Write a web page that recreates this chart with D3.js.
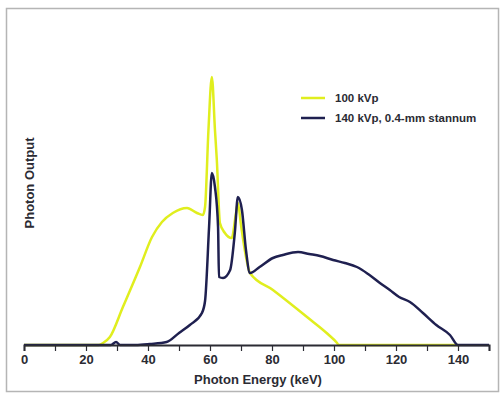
<!DOCTYPE html>
<html>
<head>
  <script src="https://d3js.org/d3.v7.min.js"></script>
  <style>
    body { margin: 0; background: #fff; }
    text { font-family: "Liberation Sans", Arial, sans-serif; font-weight: bold; fill: #2b2b33; }
  </style>
</head>
<body>
<div id="chart"></div>
<script>
// x ticks (keV)
var xTicks = [0, 10, 20, 30, 40, 50, 60, 70, 80, 90, 100, 110, 120, 130, 140, 150];
var xLabels = [0, 20, 40, 60, 80, 100, 120, 140];

// 100 kVp spectrum (energy keV, relative photon output)
var kev100 = [0, 24, 25.5, 27.7, 31.9, 37.4, 41.3, 44.5, 48, 52.6, 55.8, 57.7, 58.4, 59.5, 60.6, 61.6, 62.2, 63.2, 64.8, 67, 68.3, 69, 70, 71.5, 72.9, 80.3, 91.3, 98, 101, 101.5, 110, 120, 130, 140];
var out100 = [0, 0, 2, 8, 38, 78, 108, 123, 132, 137, 132, 130, 138, 215, 268, 215, 185, 122, 112, 107, 130, 142, 120, 90, 72, 55, 28, 11, 2, 0, 0, 0, 0, 0];

// 140 kVp, 0.4-mm stannum
var kev140 = [0, 28, 29.7, 31, 36, 40.6, 46, 50, 53.5, 57.4, 58.4, 59.7, 60.6, 61.6, 62.6, 62.9, 64.2, 66.5, 68, 69, 70.3, 71.6, 72.9, 76, 80.3, 83.5, 88.4, 92, 95.5, 99.7, 103.5, 107.4, 111, 114.8, 118, 121, 124.5, 128.7, 133, 137.4, 140, 145, 150];
var out140 = [0, 0, 3, 0, 0, 1, 3, 12, 20, 32, 44, 118, 172, 158, 118, 68, 67, 75, 112, 148, 135, 95, 72, 78, 87, 90, 93, 91, 89, 85, 82, 78, 71, 62, 55, 48, 43, 32, 20, 10, 0, 0, 0];

var seriesNames = ["100 kVp", "140 kVp, 0.4-mm stannum"];
var seriesColors = ["#e0ee1e", "#1f2050"];

var width = 504, height = 396;
var svg = d3.select("#chart").append("svg")
  .attr("width", width)
  .attr("height", height);

// outer frame
svg.append("rect")
  .attr("x", 6.5).attr("y", 8.5)
  .attr("width", 492).attr("height", 383)
  .attr("fill", "#fff")
  .attr("stroke", "#b5b5b5")
  .attr("stroke-width", 1.5);

var x = d3.scaleLinear().domain([0, 150]).range([24, 489]);
var y = d3.scaleLinear().domain([0, 280]).range([345, 65]);

var line = d3.line()
  .x(function(d) { return x(d[0]); })
  .y(function(d) { return y(d[1]); })
  .curve(d3.curveMonotoneX);

var data100 = kev100.map(function(k, i) { return [k, out100[i]]; });
var data140 = kev140.map(function(k, i) { return [k, out140[i]]; });

svg.append("path")
  .datum(data100)
  .attr("fill", "none")
  .attr("stroke", seriesColors[0])
  .attr("stroke-width", 2.5)
  .attr("d", line);

svg.append("path")
  .datum(data140)
  .attr("fill", "none")
  .attr("stroke", seriesColors[1])
  .attr("stroke-width", 2.5)
  .attr("stroke-linejoin", "round")
  .attr("d", line);

// x axis
var xAxis = d3.axisBottom(x)
  .tickValues(xTicks)
  .tickSize(6)
  .tickFormat(function(d) { return xLabels.indexOf(d) >= 0 ? d : ""; });

var gx = svg.append("g")
  .attr("transform", "translate(0," + y(0) + ")")
  .call(xAxis);
gx.select(".domain").attr("stroke", "#2b2b33").attr("stroke-width", 2);
gx.selectAll(".tick line").attr("stroke", "#2b2b33").attr("stroke-width", 1.2);
gx.selectAll(".tick text")
  .attr("y", 10)
  .style("font-size", "13px")
  .style("font-family", "Liberation Sans, Arial, sans-serif")
  .style("font-weight", "bold")
  .attr("fill", "#2b2b33");

svg.append("text")
  .attr("x", 258)
  .attr("y", 384)
  .attr("text-anchor", "middle")
  .style("font-size", "13px")
  .text("Photon Energy (keV)");

svg.append("text")
  .attr("transform", "translate(34,183) rotate(-90)")
  .attr("text-anchor", "middle")
  .style("font-size", "13px")
  .text("Photon Output");

// legend
var legend = svg.selectAll(".legend-item")
  .data(seriesNames)
  .enter().append("g")
  .attr("class", "legend-item")
  .attr("transform", function(d, i) { return "translate(301," + (98 + i * 20) + ")"; });

legend.append("line")
  .attr("x1", 0).attr("x2", 24)
  .attr("stroke", function(d, i) { return seriesColors[i]; })
  .attr("stroke-width", 2.5);

legend.append("text")
  .attr("x", 34)
  .attr("y", 4)
  .style("font-size", "11.5px")
  .text(function(d) { return d; });
</script>
</body>
</html>
